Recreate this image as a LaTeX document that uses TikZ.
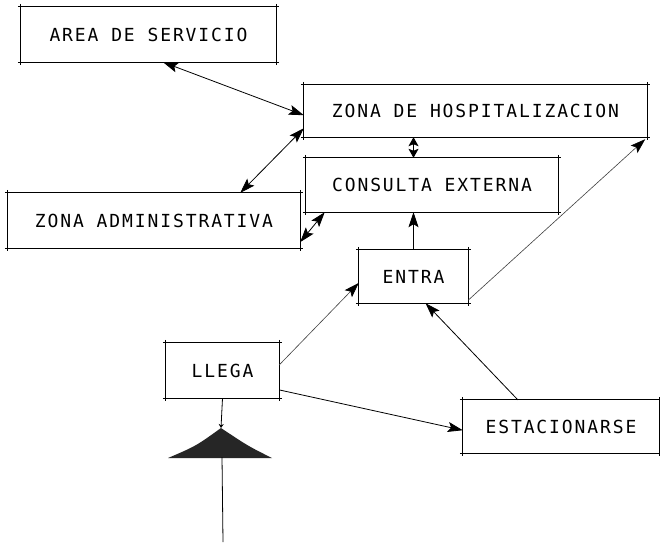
\documentclass[tikz,border=0pt]{standalone}
\usepackage{fontspec}
\newfontfamily\plotfont[LetterSpace=10.5]{DejaVu Sans Mono}
\usetikzlibrary{arrows.meta,calc}
\begin{document}
\begin{tikzpicture}[x=1pt,y=-1pt,
  box/.style={rectangle, inner sep=0pt, font=\plotfont\fontsize{18}{20}\selectfont},
  edgeline/.style={line width=0.9pt, shorten <=-3pt, shorten >=-3pt},
  conn/.style={line width=0.8pt},
  faint/.style={line width=0.6pt, black!75},
  ahead/.style={Stealth[length=15pt,width=10pt,inset=3pt,black]},
  tipb/.style={{Stealth[length=15pt,width=10pt,inset=3pt,black]}-{Stealth[length=15pt,width=10pt,inset=3pt,black]}},
  tip/.style={-{Stealth[length=15pt,width=10pt,inset=3pt,black]}}
]
\useasboundingbox (0,0) rectangle (660,542);
\fill[white] (0,0) rectangle (660,542);

\node[box, minimum width=255pt, minimum height=55pt] (AS) at (148.5,34.5) {AREA DE SERVICIO};
\node[box, minimum width=343pt, minimum height=52pt] (ZH) at (475.5,111) {ZONA DE HOSPITALIZACION};
\node[box, minimum width=252pt, minimum height=54pt] (CE) at (432,185) {CONSULTA EXTERNA};
\node[box, minimum width=292pt, minimum height=55pt] (ZA) at (154,220.5) {ZONA ADMINISTRATIVA};
\node[box, minimum width=109pt, minimum height=53pt] (EN) at (413.5,276.5) {ENTRA};
\node[box, minimum width=113pt, minimum height=55pt] (LL) at (222.5,370.5) {LLEGA};
\node[box, minimum width=196pt, minimum height=53pt] (ES) at (561,426.5) {ESTACIONARSE};

\foreach \n in {AS,ZH,CE,ZA,EN,LL,ES}{
  \draw[edgeline] (\n.north west) -- (\n.north east);
  \draw[edgeline] (\n.south west) -- (\n.south east);
  \draw[edgeline] (\n.north west) -- (\n.south west);
  \draw[edgeline] (\n.north east) -- (\n.south east);
}

% connectors
\draw[conn, tipb] ($(AS.south west)!0.557!(AS.south east)$) -- ($(ZH.north west)!0.58!(ZH.south west)$);
\draw[conn, tipb] ($(ZH.north west)!0.83!(ZH.south west)$) -- ($(ZA.north west)!0.795!(ZA.north east)$);
\draw[conn, {Stealth[length=9pt,width=10pt,inset=2pt]}-{Stealth[length=9pt,width=10pt,inset=2pt]}] (ZH.south -| EN.north) -- (CE.north -| EN.north);
\draw[conn, tipb] ($(ZA.north east)!0.89!(ZA.south east)$) -- ($(CE.south west)!0.075!(CE.south east)$);
\draw[conn, tip] (EN.north) -- (CE.south -| EN.north);
\draw[faint, tip] ($(LL.north east)!0.4!(LL.south east)$) -- ($(EN.north west)!0.62!(EN.south west)$);
\draw[faint, tip] ($(EN.south east)+(0,-3)$) -- ($(ZH.south east)+(-2,2)$);
\draw[conn, tip] ($(ES.north west)!0.28!(ES.north east)$) -- ($(EN.south west)!0.61!(EN.south east)$);
\draw[conn, tip] ($(LL.north east)!0.85!(LL.south east)$) -- ($(ES.north west)!0.57!(ES.south west)$);

% triangle symbol
\coordinate (apex) at (221,428);
\coordinate (tbase) at (222,457);
\coordinate (bot) at (223,542);
\fill[black!85] (apex) .. controls (248,446) .. (272,458) -- (168,458) .. controls (196,446) .. (apex) -- cycle;
\draw[conn, -{Stealth[length=4pt,width=5pt]}] (LL.south) -- (apex);
\draw[conn] (tbase) -- (bot);
\end{tikzpicture}
\end{document}
